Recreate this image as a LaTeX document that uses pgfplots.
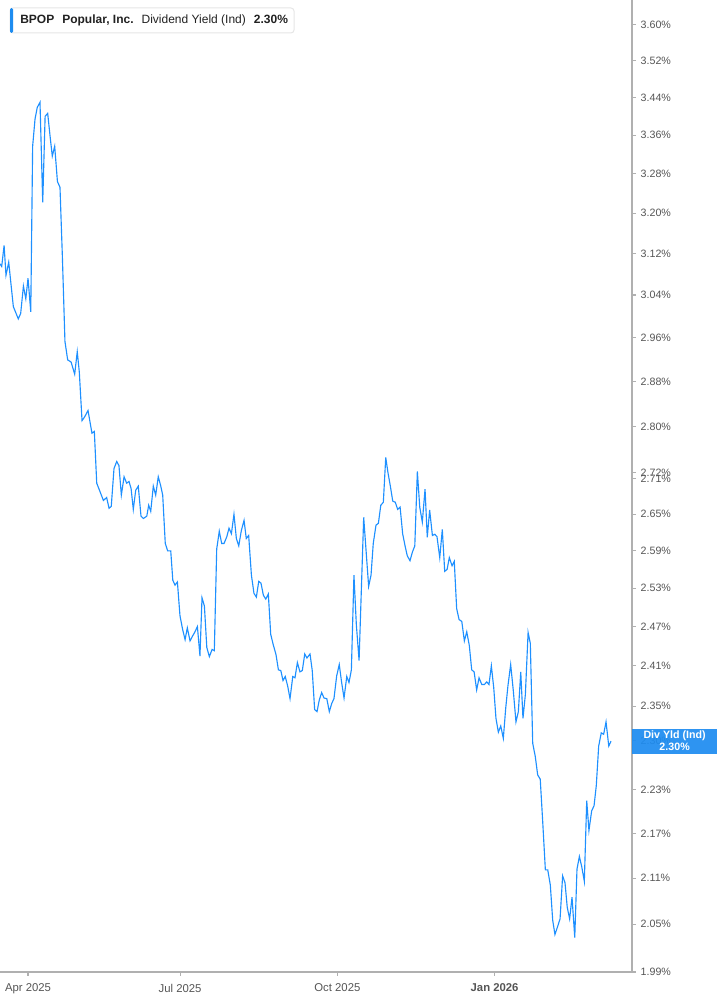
\documentclass[border=0pt]{standalone}
\usepackage{fontspec}
\setmainfont{Liberation Sans}
\usepackage{pgfplots}
\pgfplotsset{compat=1.18}

\definecolor{yieldblue}{RGB}{30,144,255}
\definecolor{boxblue}{RGB}{30,140,240}
\definecolor{axisgray}{RGB}{176,176,176}
\definecolor{labelgray}{RGB}{85,85,85}
\definecolor{framegray}{RGB}{230,230,230}

% day offset from 1 Apr 2025, dividend yield in percent
\pgfplotstableread{
day  yld
-16.4 3.100
-15.4 3.095
-14.0 3.136
-12.9 3.078
-11.3 3.103
-8.6 3.018
-5.7 2.995
-4.3 3.005
-2.7 3.057
-1.3 3.033
0.0 3.072
1.6 3.008
2.7 3.337
4.1 3.394
5.4 3.419
7.0 3.430
8.6 3.222
10.0 3.400
11.5 3.406
12.9 3.358
14.2 3.316
15.6 3.337
17.2 3.264
18.7 3.252
20.1 3.114
21.6 2.953
23.2 2.919
25.2 2.915
27.3 2.893
28.8 2.934
30.0 2.897
31.6 2.810
33.2 2.817
35.1 2.828
37.4 2.788
38.8 2.791
40.2 2.702
42.1 2.688
44.1 2.673
46.0 2.678
47.4 2.660
48.7 2.663
50.3 2.727
51.9 2.739
53.2 2.732
54.6 2.682
56.2 2.713
57.7 2.702
59.1 2.705
60.3 2.693
61.6 2.658
63.0 2.690
64.5 2.697
66.1 2.647
67.5 2.643
69.5 2.647
70.6 2.665
71.8 2.655
73.3 2.697
74.7 2.682
76.2 2.713
77.6 2.698
78.8 2.682
80.3 2.602
81.7 2.590
83.5 2.590
84.7 2.543
86.0 2.535
87.4 2.540
88.9 2.487
90.5 2.465
91.9 2.450
93.2 2.468
94.8 2.448
96.4 2.456
97.5 2.461
99.1 2.470
100.6 2.425
101.8 2.515
103.2 2.502
104.6 2.438
106.1 2.424
107.7 2.435
109.0 2.433
110.4 2.593
111.9 2.622
113.3 2.602
114.7 2.602
116.3 2.613
117.6 2.627
119.0 2.618
120.5 2.650
121.9 2.610
123.3 2.598
124.8 2.623
126.4 2.640
127.7 2.610
129.1 2.615
130.7 2.551
132.2 2.522
133.6 2.516
135.0 2.541
136.3 2.538
137.7 2.519
139.1 2.513
140.6 2.521
142.0 2.458
143.5 2.442
145.1 2.427
146.5 2.404
147.9 2.403
149.2 2.388
150.5 2.394
151.9 2.380
153.3 2.361
154.9 2.394
156.2 2.392
157.6 2.415
159.1 2.401
160.5 2.403
161.9 2.428
163.2 2.422
165.0 2.428
166.3 2.403
167.7 2.345
169.1 2.342
170.4 2.359
171.8 2.370
173.2 2.362
174.8 2.361
176.3 2.342
177.7 2.354
179.0 2.361
180.6 2.395
182.1 2.412
183.5 2.385
184.9 2.362
186.5 2.394
187.8 2.385
189.2 2.404
190.7 2.551
192.1 2.473
193.7 2.418
195.0 2.525
196.4 2.645
197.8 2.590
199.3 2.533
200.7 2.551
202.0 2.602
203.6 2.632
205.0 2.635
206.4 2.665
207.9 2.670
209.3 2.746
210.6 2.720
212.0 2.697
213.4 2.672
214.9 2.670
216.3 2.658
217.7 2.662
219.2 2.618
220.6 2.598
221.9 2.582
223.5 2.574
224.9 2.588
226.3 2.598
227.8 2.722
229.2 2.662
230.7 2.637
232.3 2.692
233.6 2.612
235.0 2.657
236.6 2.615
238.0 2.617
239.3 2.613
240.9 2.579
242.4 2.625
243.8 2.557
245.2 2.560
246.5 2.579
248.1 2.566
249.4 2.573
250.8 2.498
252.2 2.481
253.8 2.478
255.3 2.448
256.7 2.462
258.2 2.441
259.6 2.404
261.0 2.401
262.5 2.374
263.9 2.392
265.5 2.382
267.0 2.382
268.4 2.386
269.7 2.382
271.1 2.410
272.5 2.377
273.8 2.332
275.2 2.312
276.6 2.321
278.1 2.303
279.5 2.347
280.8 2.380
282.4 2.412
283.9 2.374
285.5 2.327
286.9 2.342
288.3 2.401
289.6 2.332
291.0 2.367
292.6 2.461
293.9 2.444
295.3 2.296
296.8 2.277
298.2 2.251
299.7 2.245
301.1 2.188
302.7 2.121
304.1 2.121
305.6 2.101
307.0 2.055
308.3 2.037
309.7 2.046
311.3 2.057
312.8 2.113
314.2 2.104
315.5 2.072
316.9 2.057
318.3 2.085
319.9 2.033
321.2 2.122
322.6 2.139
324.0 2.125
325.5 2.106
326.9 2.215
328.2 2.174
329.8 2.201
331.2 2.208
332.5 2.236
333.9 2.292
335.4 2.311
336.8 2.309
338.2 2.327
339.8 2.292
341.1 2.299
}\yielddata

\begin{document}
\begin{tikzpicture}
\path[use as bounding box] (0pt,0pt) rectangle (537.75pt,-753.75pt);

\begin{axis}[
    at={(0pt,0pt)}, anchor=north west,
    scale only axis, width=474pt, height=729pt,
    xmin=-16.4, xmax=353.4,
    ymode=log, ymin=1.99, ymax=3.657,
    axis x line=bottom, axis y line=right,
    axis line style={-, draw=axisgray, line width=1.1pt},
    tick align=outside, major tick length=3pt,
    tick style={draw=axisgray, line width=0.8pt},
    yminorticks=false, xminorticks=false,
    xtick={0,89,181,273},
    xticklabels={Apr 2025,Jul 2025,Oct 2025,\textbf{Jan 2026}},
    xticklabel style={font=\fontsize{8.5}{10}\selectfont, text=labelgray, yshift=-2.5pt},
    ytick={1.99,2.05,2.11,2.17,2.23,2.30,2.35,2.41,2.47,2.53,2.59,2.65,2.71,2.72,2.80,2.88,2.96,3.04,3.12,3.20,3.28,3.36,3.44,3.52,3.60},
    yticklabels={1.99\%,2.05\%,2.11\%,2.17\%,2.23\%,2.30\%,2.35\%,2.41\%,2.47\%,2.53\%,2.59\%,2.65\%,2.71\%,2.72\%,2.80\%,2.88\%,2.96\%,3.04\%,3.12\%,3.20\%,3.28\%,3.36\%,3.44\%,3.52\%,3.60\%},
    yticklabel style={font=\fontsize{8}{9}\selectfont, text=labelgray, anchor=west},
    clip=false,
]
\addplot[yieldblue, line width=0.85pt, mark=none] table[x=day, y=yld] {\yielddata};
\coordinate (lastv) at (axis cs:353.4,2.30);
\end{axis}

% last value tag on the right axis
\node[fill=boxblue, fill opacity=0.93, text opacity=1, text=white, anchor=west,
      font=\fontsize{8}{9}\selectfont\bfseries, align=center,
      minimum width=63.5pt, minimum height=18.75pt, inner sep=0pt]
      at ([yshift=-0.4pt]lastv) {Div Yld (Ind)\\2.30\%};

% header legend box
\draw[framegray, fill=white, line width=0.75pt, rounded corners=2.25pt]
     (7.5pt,-6pt) rectangle (220.5pt,-24.75pt);
\fill[boxblue, rounded corners=1pt] (7.5pt,-6pt) rectangle (9.75pt,-24.75pt);
\node[anchor=west, inner sep=0pt, text={rgb,255:red,34;green,34;blue,34},
      font=\fontsize{9}{10}\selectfont] at (15pt,-15.4pt)
     {\textbf{BPOP}\hspace{6pt}\textbf{Popular, Inc.}\hspace{6pt}Dividend Yield (Ind)\hspace{6pt}\textbf{2.30\%}};
\end{tikzpicture}
\end{document}
